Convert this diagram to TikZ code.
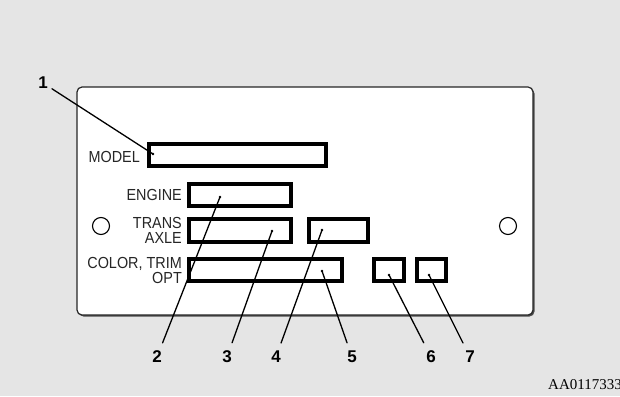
\documentclass[tikz,border=0pt]{standalone}
\usepackage{fontspec}
\setmainfont{Liberation Serif}
\setsansfont{Liberation Sans}
\newfontfamily\platefont[FakeStretch=0.9]{Liberation Sans}
\usepackage{xcolor}
\usepackage{tikz}
\usetikzlibrary{positioning}
\definecolor{bggray}{HTML}{E5E5E5}

\begin{document}
\begin{tikzpicture}[
  x=1pt, y=-1pt,
  plate/.style={draw=black!85, line width=1.2pt, rounded corners=5pt, fill=white,
    minimum width=456pt, minimum height=228pt, inner sep=0pt},
  field/.style={draw, line width=4pt, minimum height=22pt, inner sep=0pt},
  hole/.style={draw, circle, line width=1.1pt, minimum size=17pt, inner sep=0pt},
  lbl/.style={inner sep=0pt, align=right, text=black!85, font=\platefont\fontsize{16}{15}\selectfont},
  num/.style={inner sep=8pt, font=\sffamily\bfseries\fontsize{17}{17}\selectfont},
  leader/.style={line width=1.3pt, line cap=round}]
  \fill[bggray] (0,0) rectangle (620,396);
  \useasboundingbox (0,0) rectangle (620,396);
  \fill[black!70, rounded corners=5pt] (78.5,88.5) rectangle (534.5,316.5);
  \node[plate] (plate) at (305,201) {};
  \node[hole] (holeL) at (101,226) {};
  \node[hole] (holeR) at (508,226) {};
  \node[field, minimum width=177pt] (model) at (237.5,154.5) {};
  \node[field, minimum width=102pt] (engine) at (240,194.5) {};
  \node[field, minimum width=102pt, minimum height=23pt] (trans) at (240,230.5) {};
  \node[field, minimum width=59pt, minimum height=23pt] (axle) at (338.5,230.5) {};
  \node[field, minimum width=153pt] (color) at (265.5,270) {};
  \node[field, minimum width=30pt] (opt) at (389,270) {};
  \node[field, minimum width=29pt] (trim) at (431.5,270) {};
  \node[lbl, left=7pt of model, yshift=-2pt] (lmodel) {MODEL};
  \node[lbl, left=5pt of engine] (lengine) {ENGINE};
  \node[lbl, left=5pt of trans] (ltrans) {TRANS\\AXLE};
  \node[lbl, left=5pt of color] (lcolor) {COLOR, TRIM\\OPT};
  \coordinate (p1) at (153,154);
  \coordinate (p2) at (220,197);
  \coordinate (p3) at (272,231);
  \coordinate (p4) at (322,230);
  \coordinate (p5) at (322,271);
  \coordinate (p6) at (389,275);
  \coordinate (p7) at (429,275);
  \node[num, inner sep=4pt] (n1) at (43,83) {1};
  \node[num] (n2) at (157,357) {2};
  \node[num] (n3) at (227,357) {3};
  \node[num] (n4) at (276,357) {4};
  \node[num] (n5) at (352,357) {5};
  \node[num] (n6) at (431,357) {6};
  \node[num] (n7) at (470,357) {7};
  \foreach \i in {1,...,7} {
    \draw[leader] (n\i) -- (p\i);
    \fill (p\i) circle (1.4pt);
  }
  \node[anchor=west, inner sep=0pt, font=\rmfamily\fontsize{15}{15}\selectfont] (code) at (548,385) {AA0117333};
\end{tikzpicture}
\end{document}
